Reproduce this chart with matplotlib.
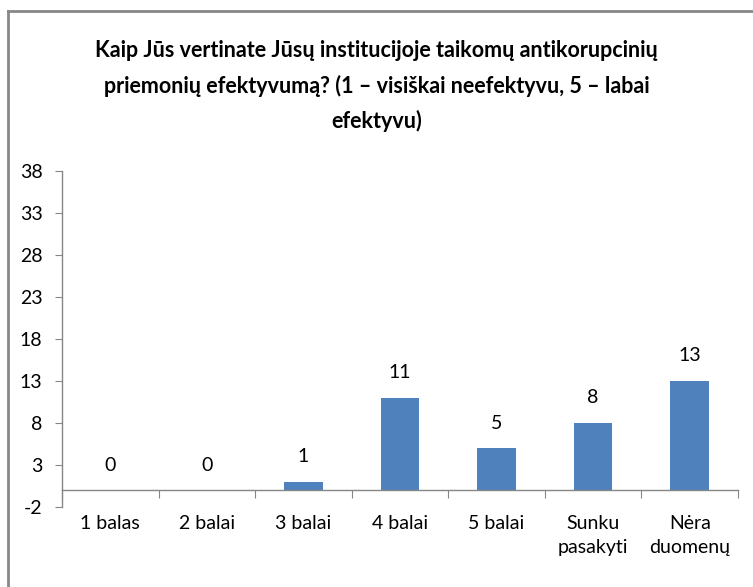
import matplotlib
matplotlib.use("Agg")
import matplotlib.pyplot as plt
from matplotlib.lines import Line2D

# data
categories = ["1 balas", "2 balai", "3 balai", "4 balai", "5 balai",
              "Sunku\npasakyti", "Nėra\nduomenų"]
counts = [0, 0, 1, 11, 5, 8, 13]
y_ticks = [-2, 3, 8, 13, 18, 23, 28, 33, 38]
title = ("Kaip Jūs vertinate Jūsų institucijoje taikomų antikorupcinių\n"
         "priemonių efektyvumą? (1 – visiškai neefektyvu, 5 – labai\n"
         "efektyvu)")

bar_color = "#4F81BD"
axis_color = "#868686"
font = "Lato"

fig = plt.figure(figsize=(7.53, 5.87), dpi=100)
ax = fig.add_axes([62 / 753, 1 - 507 / 587, 676 / 753, 336 / 587])

x = list(range(len(categories)))
bars = ax.bar(x, counts, width=0.4, color=bar_color, zorder=2)

for xi, v in zip(x, counts):
    ax.annotate(str(v), (xi, v), xytext=(0, 12), textcoords="offset points",
                ha="center", va="bottom", fontsize=14, family=font)

ax.set_xlim(-0.5, len(categories) - 0.5)
ax.set_ylim(-2, 38)
ax.set_yticks(y_ticks)
ax.set_yticklabels([str(t) for t in y_ticks], fontsize=14, family=font)
ax.tick_params(axis="y", direction="out", length=5, color=axis_color, pad=9)

# category boundaries as ticks on the zero line, names below the plot
ax.spines["bottom"].set_position(("data", 0))
ax.set_xticks([i - 0.5 for i in range(len(categories) + 1)])
ax.set_xticklabels([])
ax.set_xticks(x, minor=True)
ax.set_xticklabels(categories, minor=True, fontsize=14, family=font,
                   va="top", linespacing=1.55)
ax.tick_params(axis="x", which="major", direction="out", length=6,
               color=axis_color)
ax.tick_params(axis="x", which="minor", length=0, pad=17.5)

for side in ["top", "right"]:
    ax.spines[side].set_visible(False)
for side in ["left", "bottom"]:
    ax.spines[side].set_color(axis_color)
    ax.spines[side].set_linewidth(1)

fig.text(0.5, 1 - 40 / 587, title, ha="center", va="top", fontsize=15.5,
         fontweight="bold", family=font, linespacing=1.75)

# chart frame (only top and left edges visible in the crop)
fig.add_artist(Line2D([8 / 753, 1], [1 - 11 / 587, 1 - 11 / 587],
                      color="#878787", lw=2, transform=fig.transFigure))
fig.add_artist(Line2D([8 / 753, 8 / 753], [0, 1 - 11 / 587],
                      color="#878787", lw=2, transform=fig.transFigure))

fig.savefig("out.png", dpi=100, facecolor="white")
